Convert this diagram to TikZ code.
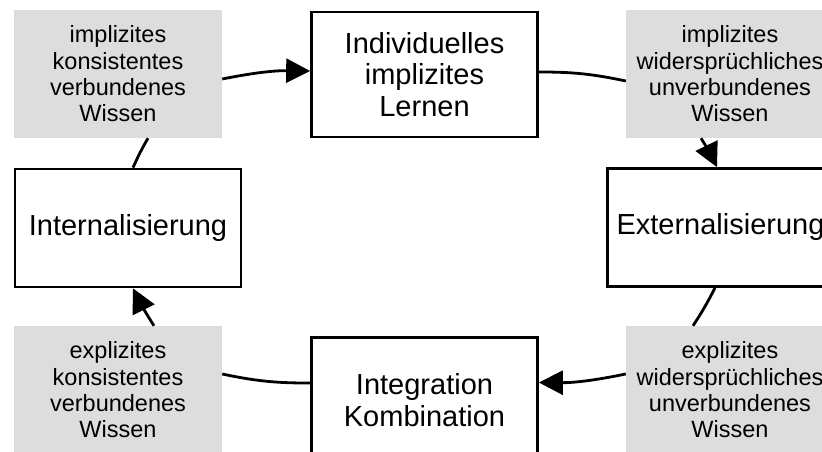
\documentclass[tikz,border=0pt]{standalone}
\usepackage{fontspec}
\setmainfont{Liberation Sans}
\usetikzlibrary{arrows.meta}
\definecolor{wissengrau}{RGB}{221,221,221}

\tikzset{
  stage/.style={draw, line width=2.7pt, inner sep=0pt, align=center,
    minimum width=226pt, font=\fontsize{29}{31.5}\selectfont},
  wissen/.style={fill=wissengrau, inner sep=0pt, align=center,
    minimum width=208pt, minimum height=128pt,
    font=\fontsize{23.5}{26.3}\selectfont},
  flow/.style={line width=2.8pt},
  flowarrow/.style={flow, -{Triangle[length=24pt,width=24pt]}},
}

\begin{document}
\begin{tikzpicture}[x=1pt,y=-1pt]
  \path[use as bounding box, clip] (0,0) rectangle (822,452);
  \fill[white] (0,0) rectangle (822,452);

  % knowledge states (grey)
  \node[wissen] (tl) at (118,74)  {implizites\\konsistentes\\verbundenes\\Wissen};
  \node[wissen] (tr) at (730,74)  {implizites\\widersprüchliches\\unverbundenes\\Wissen};
  \node[wissen] (bl) at (118,390) {explizites\\konsistentes\\verbundenes\\Wissen};
  \node[wissen] (br) at (730,390) {explizites\\widersprüchliches\\unverbundenes\\Wissen};

  % learning processes (framed)
  \node[stage, minimum height=125pt] (indiv)  at (424.5,74.5) {Individuelles\\implizites\\Lernen};
  \node[stage, minimum height=118pt] (intern) at (128,228)    {Internalisierung};
  \node[stage, minimum height=118pt] (extern) at (720.5,227.5){Externalisierung};
  \node[stage, minimum height=125pt] (integ)  at (424.5,400)  {Integration\\Kombination};

  % the cycle, clockwise
  \draw[flowarrow] ([yshift=-5pt]tl.east) to[bend left=6] ([yshift=3.5pt]indiv.west);
  \draw[flow] ([yshift=2.5pt]indiv.east) to[bend left=6] ([yshift=-7pt]tr.west);
  \draw[flowarrow] ([xshift=-29pt]tr.south) to[bend left=3] ([xshift=-3.5pt]extern.north);
  \draw[flow] ([xshift=-5.5pt]extern.south) to[bend left=3] ([xshift=-37pt]br.north);
  \draw[flowarrow] ([yshift=16pt]br.west) to[bend left=6] ([yshift=17.5pt]integ.west -| integ.east);
  \draw[flow] ([yshift=17pt]integ.west) to[bend left=6] ([yshift=16pt]bl.east);
  \draw[flowarrow] ([xshift=36pt]bl.north) to[bend left=3] ([xshift=5pt]intern.south);
  \draw[flow] ([xshift=5pt]intern.north) to[bend left=3] ([xshift=30pt]tl.south);
\end{tikzpicture}
\end{document}
